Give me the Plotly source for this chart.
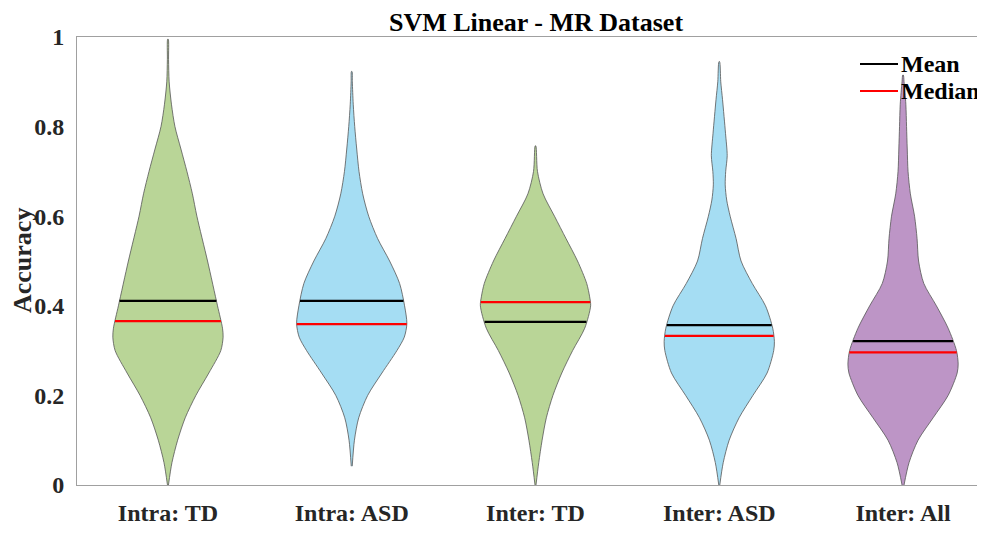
import numpy as np
import plotly.graph_objects as go

categories = ["Intra: TD", "Intra: ASD", "Inter: TD", "Inter: ASD", "Inter: All"]
colors = ["#B9D597", "#A5DDF3", "#B9D597", "#A5DDF3", "#BD95C6"]

# density profiles (relative half-widths)
y1 = [0, 0.05, 0.1, 0.15, 0.2, 0.25, 0.3, 0.33, 0.35, 0.4, 0.5, 0.6, 0.65, 0.7, 0.75, 0.8, 0.85, 0.9, 0.95, 0.995]
d1 = [0.5, 4, 9.7, 17.3, 28, 41, 53, 55.3, 54.7, 49.7, 39.7, 29, 24.5, 19, 13, 7, 3.5, 1.2, 0.6, 0.3]

y2 = [0.042, 0.1, 0.15, 0.2, 0.25, 0.3, 0.33, 0.36, 0.4, 0.45, 0.5, 0.55, 0.6, 0.65, 0.7, 0.75, 0.8, 0.85, 0.9, 0.923]
d2 = [0.5, 2.7, 7, 16, 30.3, 45.3, 52.7, 55.3, 53, 48, 38, 26, 17, 11, 7.3, 5, 3, 1.5, 0.6, 0.3]

y3 = [0, 0.05, 0.1, 0.15, 0.2, 0.25, 0.3, 0.35, 0.4, 0.42, 0.45, 0.5, 0.55, 0.6, 0.65, 0.7, 0.757]
d3 = [0.5, 3.3, 6.7, 11, 17.7, 26.7, 37.7, 50, 56, 55, 52, 42.7, 31, 19.3, 7.7, 2, 0.3]

y4 = [0, 0.05, 0.1, 0.15, 0.2, 0.25, 0.3, 0.32, 0.35, 0.4, 0.45, 0.5, 0.55, 0.6, 0.636, 0.67, 0.7, 0.735, 0.785, 0.86, 0.9, 0.945]
d4 = [0.5, 4, 10, 20, 34, 48.3, 55, 55.7, 54, 46.7, 33.3, 22, 17, 11, 7.5, 6, 6.5, 8, 6.3, 3.3, 1.5, 0.3]

y5 = [0, 0.05, 0.1, 0.15, 0.2, 0.25, 0.27, 0.3, 0.35, 0.4, 0.45, 0.5, 0.55, 0.6, 0.65, 0.7, 0.75, 0.8, 0.85, 0.9, 0.915]
d5 = [1, 6, 15, 30, 45, 54, 55, 53.3, 45, 33.3, 20.7, 15.5, 14, 11.5, 7.3, 5, 4.2, 3.5, 2.8, 1, 0.3]

means = [0.411, 0.411, 0.364, 0.357, 0.321]
medians = [0.366, 0.359, 0.408, 0.333, 0.296]

ytick_vals = [0, 0.2, 0.4, 0.6, 0.8, 1]
ytick_text = ["0", "0.2", "0.4", "0.6", "0.8", "1"]

legend_names = ["Mean", "Median"]
legend_colors = ["black", "red"]

profiles = [(y1, d1), (y2, d2), (y3, d3), (y4, d4), (y5, d5)]
MAXW = 0.30  # max half-width in category units

FONT = "Liberation Serif"
OFF = 8                      # page body margin
W, H = 985 - OFF, 534 - OFF
L, R, T, B = 77 - OFF, 0, 37 - OFF, H - (485 - OFF)
PW, PH = W - L - R, H - T - B

def px_x(p):
    """reference pixel x -> paper fraction"""
    return (p - OFF - L) / PW

def px_y(p):
    """reference pixel y -> paper fraction"""
    return 1 - (p - OFF - T) / PH

fig = go.Figure()

for i, ((ys, ds), col) in enumerate(zip(profiles, colors)):
    c = i + 1
    ys = np.array(ys, float)
    ds = np.array(ds, float)
    hw = ds / ds.max() * MAXW
    xs = np.concatenate([c - hw, (c + hw)[::-1]])
    yy = np.concatenate([ys, ys[::-1]])
    fig.add_trace(go.Scatter(x=xs, y=yy, mode="lines", fill="toself", fillcolor=col,
                             line=dict(color="#555555", width=0.8, shape="spline", smoothing=0.8),
                             showlegend=False, hoverinfo="skip"))

for i, (ys, ds) in enumerate(profiles):
    c = i + 1
    ys = np.array(ys, float)
    hw = np.array(ds, float) / max(ds) * MAXW
    for val, colr in ((means[i], "black"), (medians[i], "red")):
        w = float(np.interp(val, ys, hw))
        fig.add_trace(go.Scatter(x=[c - w, c + w], y=[val, val], mode="lines",
                                 line=dict(color=colr, width=2.2), showlegend=False, hoverinfo="skip"))

# legend (drawn manually to match the original compact layout)
for k, (nm, lc) in enumerate(zip(legend_names, legend_colors)):
    yc = 64 + 27 * k
    fig.add_shape(type="line", xref="paper", yref="paper", x0=px_x(860), x1=px_x(898),
                  y0=px_y(yc), y1=px_y(yc), line=dict(color=lc, width=2.2))
    fig.add_annotation(xref="paper", yref="paper", x=px_x(899), y=px_y(yc), text=nm,
                       showarrow=False, xanchor="left", yanchor="middle",
                       font=dict(family=FONT, size=24, color="black", weight="bold"))

# y axis title
fig.add_annotation(xref="paper", yref="paper", x=px_x(22), y=px_y(261), text="Accuracy",
                   textangle=-90, showarrow=False, xanchor="center", yanchor="middle",
                   font=dict(family=FONT, size=26, color="#262626", weight="bold"))

fig.update_layout(
    width=W, height=H,
    margin=dict(l=L, r=R, t=T, b=B, autoexpand=False),
    plot_bgcolor="white", paper_bgcolor="white",
    font=dict(family=FONT, size=24, color="#262626"),
    title=dict(text="SVM Linear - MR Dataset", x=(536 - OFF) / W, xanchor="center", xref="container",
               y=1 - (21.5 - OFF) / H, yanchor="middle", yref="container",
               font=dict(family=FONT, size=26, color="#000000", weight="bold")),
    showlegend=False,
)
fig.update_xaxes(range=[0.505, 5.446], tickvals=[1, 2, 3, 4, 5], ticktext=categories,
                 showline=True, linecolor="#A0A0A0", linewidth=1, mirror=True,
                 showgrid=False, zeroline=False, ticks="", ticklabelstandoff=6, automargin=False,
                 tickfont=dict(family=FONT, size=24, color="#262626", weight="bold"))
fig.update_yaxes(range=[0, 1], tickvals=ytick_vals, ticktext=ytick_text,
                 showline=True, linecolor="#A0A0A0", linewidth=1,
                 showgrid=False, zeroline=False, ticks="", ticklabelstandoff=7, automargin=False,
                 tickfont=dict(family=FONT, size=24, color="#262626", weight="bold"))

fig.write_html("out.html")
